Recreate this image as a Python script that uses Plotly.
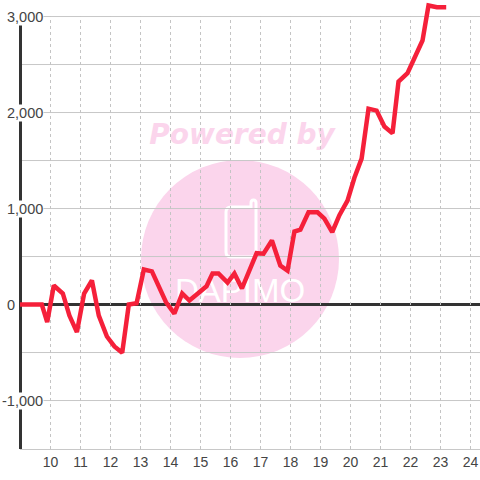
import plotly.graph_objects as go

# 読み取った値
x_vals = [8.93, 9.71, 9.89, 10.11, 10.41, 10.63, 10.88, 11.12, 11.38, 11.61, 11.88, 12.13, 12.39, 12.61, 12.87,
          13.11, 13.38, 13.6, 13.85, 14.13, 14.39, 14.63, 14.97, 15.2, 15.4, 15.6, 15.9, 16.13, 16.38,
          16.63, 16.87, 17.1, 17.38, 17.66, 17.9, 18.13, 18.33, 18.6, 18.9, 19.13, 19.39, 19.63, 19.9,
          20.13, 20.37, 20.6, 20.87, 21.13, 21.4, 21.6, 21.9, 22.17, 22.4, 22.6, 22.88, 23.19]
y_vals = [0, 0, -184, 198, 115, -115, -288, 115, 250, -115, -333, -437, -503, 0, 14,
          365, 345, 200, 24, -94, 115, 42, 128, 190, 323, 323, 229, 323, 167,
          370, 535, 530, 667, 406, 354, 760, 780, 960, 960, 895, 753, 930, 1083,
          1320, 1520, 2040, 2020, 1854, 1783, 2323, 2410, 2594, 2750, 3115, 3096, 3096]

y_ticks = [3000, 2000, 1000, 0, -1000]
y_labels = ['3,000', '2,000', '1,000', '0', '-1,000']
y_grid = [3000, 2500, 2000, 1500, 1000, 500, -500, -1000]
x_ticks = [10, 11, 12, 13, 14, 15, 16, 17, 18, 19, 20, 21, 22, 23, 24]

WIDTH = 480
HEIGHT = 480
L, R, T, B = 20, 0, 0, 31
PINK = '#fbd5ec'
Y_MIN = -1505
Y_MAX = 3000


def px_x(p):
    return (p - L) / (WIDTH - L - R)


def px_y(p):
    return 1 - (p - T) / (HEIGHT - T - B)


def logo_path():
    # 携帯の形
    pts = 'M {} {} '.format(px_x(231), px_y(207))
    pts += 'L {} {} '.format(px_x(251), px_y(207))
    pts += 'L {} {} '.format(px_x(251), px_y(203))
    pts += 'Q {} {} {} {} '.format(px_x(251), px_y(200), px_x(253.5), px_y(200))
    pts += 'Q {} {} {} {} '.format(px_x(256), px_y(200), px_x(256), px_y(203))
    pts += 'L {} {} '.format(px_x(256), px_y(252))
    pts += 'Q {} {} {} {} '.format(px_x(256), px_y(257), px_x(251), px_y(257))
    pts += 'L {} {} '.format(px_x(231), px_y(257))
    pts += 'Q {} {} {} {} '.format(px_x(226), px_y(257), px_x(226), px_y(252))
    pts += 'L {} {} '.format(px_x(226), px_y(212))
    pts += 'Q {} {} {} {} Z'.format(px_x(226), px_y(207), px_x(231), px_y(207))
    return pts


fig = go.Figure()
fig.add_trace(go.Scatter(x=x_vals, y=y_vals, mode='lines', cliponaxis=False,
                         line=dict(color='#f5203a', width=4.5), hoverinfo='skip'))

# 透かし
shapes = [dict(type='circle', xref='paper', yref='paper', layer='below',
               x0=px_x(141), x1=px_x(339), y0=px_y(358), y1=px_y(160),
               fillcolor=PINK, line=dict(width=0))]
shapes.append(dict(type='path', xref='paper', yref='paper', layer='below', path=logo_path(),
                   line=dict(color='white', width=3)))
shapes.append(dict(type='rect', xref='paper', yref='paper', layer='below',
                   x0=px_x(170), x1=px_x(310), y0=px_y(304), y1=px_y(270), line=dict(width=0),
                   label=dict(text='DAPIMO', textposition='middle center',
                              font=dict(family='Liberation Sans', size=33, color='white'))))
shapes.append(dict(type='rect', xref='paper', yref='paper', layer='below',
                   x0=px_x(140), x1=px_x(344), y0=px_y(148), y1=px_y(116), line=dict(width=0),
                   label=dict(text='Powered by', textposition='middle center',
                              font=dict(family='DejaVu Sans', size=28, color=PINK,
                                        weight='bold', style='italic'))))

# 横のグリッド
for v in y_grid:
    shapes.append(dict(type='line', xref='paper', yref='y', layer='below', x0=0, x1=1, y0=v, y1=v,
                       line=dict(color='#c8c8c8', width=1)))
# 縦のグリッド
for v in x_ticks:
    shapes.append(dict(type='line', xref='x', yref='y', layer='below', x0=v, x1=v, y0=Y_MIN, y1=Y_MAX,
                       line=dict(color='#c4c4c4', width=1, dash='dot')))
# 0 の線と縦軸
shapes.append(dict(type='line', xref='paper', yref='y', layer='below', x0=0, x1=1, y0=0, y1=0,
                   line=dict(color='#333333', width=3)))
shapes.append(dict(type='line', xref='paper', yref='y', layer='below', x0=0.5 / 460, x1=0.5 / 460, y0=Y_MIN, y1=Y_MAX,
                   line=dict(color='#333333', width=3)))

annotations = []
for v, t in zip(y_ticks, y_labels):
    right = 16 if v == 0 else 43.5
    annotations.append(dict(x=px_x(right), y=v, xref='paper', yref='y', text=t, showarrow=False,
                            xanchor='right', yanchor='middle', bgcolor='white', borderpad=0,
                            font=dict(family='Liberation Sans', size=14.5, color='#444444')))

fig.update_layout(
    width=WIDTH, height=HEIGHT,
    margin=dict(l=L, r=R, t=T, b=B),
    paper_bgcolor='white', plot_bgcolor='rgba(0,0,0,0)',
    showlegend=False,
    shapes=shapes,
    annotations=annotations,
    xaxis=dict(range=[8.983, 8.983 + 460 / 30], tickmode='array', tickvals=x_ticks, ticklen=0,
               showgrid=False, zeroline=False,
               showline=True, linecolor='#c8c8c8', linewidth=1,
               tickfont=dict(family='Liberation Sans', size=14, color='#444444')),
    yaxis=dict(range=[Y_MIN, Y_MIN + 449 / 0.096], showticklabels=False, ticklen=0,
               showgrid=False, zeroline=False, showline=False),
)

fig.write_html("out.html", config=dict(displayModeBar=False),
               post_script="document.body.style.margin='0'; document.body.style.overflow='hidden';")
